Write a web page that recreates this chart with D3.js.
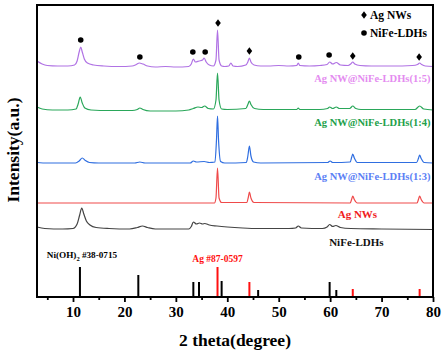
<!DOCTYPE html>
<html>
<head>
<meta charset="utf-8">
<script src="https://cdn.jsdelivr.net/npm/d3@7"></script>
<style>
  html, body { margin: 0; padding: 0; background: #fff; }
  svg { display: block; }
  text { font-family: "Times New Roman", "Liberation Serif", serif; font-weight: bold; }
</style>
</head>
<body>
<svg id="chart" width="444" height="354"></svg>
<script>
// ---------- DATA (2θ in degrees, intensity in a.u., stacked as in the figure) ----------
const seriesNames = ["Ag NW@NiFe-LDHs(1:5)", "Ag NW@NiFe-LDHs(1:4)", "Ag NW@NiFe-LDHs(1:3)", "Ag NWs", "NiFe-LDHs"];

const ratio15 = [
  [3.0,236],[4.0,233],[5.0,231.5],[7,231],[9,231],[10.3,232],[10.8,236],[11.2,245],[11.5,250],[11.8,245],
  [12.2,238],[12.8,234],[14,232],[16,231],[19,230.5],[21.5,231],[22.3,232.5],[22.9,234],[23.6,233],[24.5,231],
  [26,230],[28,230.5],[30,230],[32.5,230.5],[33.0,233],[33.4,238],[33.8,235],[34.5,236],[35.2,237],[35.5,239],
  [35.9,235],[36.5,232],[37.3,231],[37.8,237],[38.1,267],[38.4,237],[38.9,231],[39.5,230.5],[40.3,231],[40.7,234],
  [41.1,231],[42,230.5],[43.6,232],[44.0,235],[44.3,239],[44.6,235],[45.2,232],[46.5,231],[48,231],[50,231.5],
  [52,231],[53.5,231.5],[53.8,234],[54.1,231.5],[56,231],[58,231.5],[59.4,232.5],[59.9,235],[60.5,233],[61.2,234.5],
  [62,232],[63.5,231.5],[64.0,233],[64.4,235],[64.8,233],[65.8,231.5],[68,231],[72,231],[76,231.5],[77.0,232.5],
  [77.4,234],[77.8,232.5],[78.5,231],[80,230.5]
];
const ratio14 = [
  [3.0,190],[4.0,188],[6,187],[9,187],[10.6,188],[11.0,193],[11.4,200],[11.8,194],[12.3,189],[13.5,187],
  [17,186.5],[21.5,186.5],[22.5,187.5],[23.0,189],[23.6,187.5],[25,186],[30,186],[32.5,187],[33.4,188.5],[34.3,190],
  [35.0,189.5],[35.6,191],[36.3,188.5],[37.3,188],[37.8,197],[38.1,224],[38.4,197],[38.9,188],[40,187.5],[43.6,188.5],
  [44.0,192.5],[44.3,196],[44.6,192.5],[45.3,188.5],[47,187.5],[53.5,187.5],[53.8,189],[54.1,187.5],[58,187.5],[59.5,188.5],
  [59.9,190],[60.5,188.5],[61.2,190],[61.8,188.5],[63.8,188.5],[64.4,191],[65.0,188.5],[66,187.5],[76.5,187.5],[77.4,191],
  [78.2,188],[80,187]
];
const ratio13 = [
  [3,134.5],[5,134],[10.5,134],[11.2,136],[11.8,139],[12.4,136.5],[13.2,134.5],[15,134],[22,134],[23,135],
  [24,134],[32.8,134],[33.4,136],[34,135],[35.5,135.5],[36.5,134.5],[37.6,135],[37.9,157],[38.1,181],[38.3,157],
  [38.7,135.5],[39.5,134],[43.7,134.5],[44.0,141],[44.3,151],[44.6,141],[45.1,135],[46.5,134],[59.5,134.5],[60,136],
  [60.5,134.5],[63.9,135],[64.2,140],[64.4,143],[64.7,139],[65.3,134.5],[76.8,134.5],[77.2,139],[77.4,142],[77.7,138.5],
  [78.3,134.5],[80,134]
];
const agNWs = [
  [3,94],[37.5,94],[37.8,99],[38.1,129],[38.4,99],[38.9,94.5],[43.8,94.5],[44.1,100],[44.3,105],[44.6,99],
  [45.2,94.5],[63.9,94],[64.2,98],[64.4,101],[64.7,97.5],[65.3,94],[76.9,94],[77.2,98],[77.4,101],[77.7,97.5],
  [78.3,94],[80,94]
];
const nifeLDH = [
  [3,70],[4.5,68.5],[8,68],[10,68.5],[10.8,73],[11.3,82],[11.7,89],[12.1,83],[12.6,76],[13.3,72],
  [14.5,69.5],[17,68.5],[21,68],[22.5,69.5],[23.5,71],[24.5,69.5],[26,68],[32.5,68],[33.0,70.5],[33.4,75],
  [34.0,73],[34.6,74],[35.2,73],[35.6,73.5],[36.5,72],[38,71],[40,70],[43,69],[46,68.5],[52,68.5],
  [53.3,69],[53.8,71],[54.4,69],[58.5,68.5],[59.4,70],[59.9,72.5],[60.5,70.5],[61.1,71.5],[62,69.5],[64,68.5],
  [70,68],[80,67.5]
];

// Standard reference patterns: [2θ, relative bar height]
const niOH2Ref = [[11.35,30],[22.7,22],[33.4,15],[34.5,15],[38.9,16],[46.0,7],[59.9,15],[61.2,7]];
const agRef    = [[38.1,30],[44.3,15],[64.4,8],[77.4,8]];

// Phase markers above the (1:5) pattern: [2θ, intensity]
const ldhMarks = [[11.5,257],[23.0,240],[33.3,245],[35.7,245],[53.9,240],[59.8,242]];
const agMarks  = [[38.2,274],[44.3,246],[64.4,241],[77.3,240]];

const majorTicks = [10,20,30,40,50,60,70,80];
const minorTicks = [5,15,25,35,45,55,65,75];

// ---------- STYLE ----------
const curveColors = ["#b072e4", "#2aa75a", "#2f6ee0", "#ef4a4a", "#444444"];
const labelColors = ["#e48cf0", "#22a04a", "#5b80f5", "#f01c1c", "#111111"];

const svg = d3.select("#chart");
const x = d3.scaleLinear().domain([3, 80]).range([37, 433]);
const y = d3.scaleLinear().domain([0, 292]).range([297, 5]);

// curves
const line = d3.line().x(d => x(d[0])).y(d => y(d[1])).curve(d3.curveMonotoneX);
const allSeries = [ratio15, ratio14, ratio13, agNWs, nifeLDH];
svg.append("g").selectAll("path").data(allSeries).join("path")
  .attr("d", line)
  .attr("fill", "none")
  .attr("stroke", (d, i) => curveColors[i])
  .attr("stroke-width", 1.2);

// reference bars
svg.append("g").selectAll("line").data(niOH2Ref).join("line")
  .attr("x1", d => x(d[0])).attr("x2", d => x(d[0]))
  .attr("y1", y(0)).attr("y2", d => y(d[1]))
  .attr("stroke", "#000").attr("stroke-width", 2);
svg.append("g").selectAll("line").data(agRef).join("line")
  .attr("x1", d => x(d[0])).attr("x2", d => x(d[0]))
  .attr("y1", y(0)).attr("y2", d => y(d[1]))
  .attr("stroke", "#ff1010").attr("stroke-width", 2);

// markers
const diamond = (cx, cy, w, h) => `M${cx},${cy - h}L${cx + w},${cy}L${cx},${cy + h}L${cx - w},${cy}Z`;
svg.append("g").selectAll("circle").data(ldhMarks).join("circle")
  .attr("cx", d => x(d[0])).attr("cy", d => y(d[1])).attr("r", 2.8).attr("fill", "#000");
svg.append("g").selectAll("path").data(agMarks).join("path")
  .attr("d", d => diamond(x(d[0]), y(d[1]), 2.8, 3.8)).attr("fill", "#000");

// legend
svg.append("path").attr("d", diamond(364, 15, 2.8, 3.8)).attr("fill", "#000");
svg.append("text").attr("x", 370).attr("y", 19).attr("font-size", 11.5).attr("fill", "#000").text("Ag NWs");
svg.append("circle").attr("cx", 364).attr("cy", 33).attr("r", 2.8).attr("fill", "#000");
svg.append("text").attr("x", 370).attr("y", 37).attr("font-size", 11.5).attr("fill", "#000").text("NiFe-LDHs");

// series labels
const labelPos = [
  {anchor: "end", x: 79.5, v: 215},
  {anchor: "end", x: 79.5, v: 171},
  {anchor: "end", x: 79.5, v: 117},
  {anchor: "middle", x: 65.3, v: 79},
  {anchor: "middle", x: 65.1, v: 51}
];
svg.append("g").selectAll("text").data(seriesNames).join("text")
  .attr("x", (d, i) => x(labelPos[i].x))
  .attr("y", (d, i) => y(labelPos[i].v))
  .attr("text-anchor", (d, i) => labelPos[i].anchor)
  .attr("font-size", (d, i) => i < 3 ? 10.5 : 11)
  .attr("fill", (d, i) => labelColors[i])
  .text(d => d);

// reference labels
const niText = svg.append("text").attr("x", x(4.9)).attr("y", y(39)).attr("font-size", 9.2).attr("fill", "#000");
niText.append("tspan").text("Ni(OH)");
niText.append("tspan").attr("font-size", 6.5).attr("dy", 2.5).text("2");
niText.append("tspan").attr("dy", -2.5).text(" #38-0715");
svg.append("text").attr("x", x(33.2)).attr("y", y(35)).attr("font-size", 9.5).attr("fill", "#ff1010").text("Ag #87-0597");

// axes
const gx = svg.append("g").attr("transform", `translate(0,${y(0)})`)
  .call(d3.axisBottom(x).tickValues(majorTicks).tickSize(5).tickPadding(4).tickFormat(d3.format("d")));
gx.select(".domain").remove();
gx.selectAll(".tick line").attr("stroke", "#000").attr("stroke-width", 1.8);
gx.selectAll(".tick text").attr("font-size", 15).attr("font-family", "'Times New Roman','Liberation Serif',serif").attr("font-weight", "bold").attr("fill", "#000");
const gm = svg.append("g").attr("transform", `translate(0,${y(0)})`)
  .call(d3.axisBottom(x).tickValues(minorTicks).tickSize(3).tickFormat(""));
gm.select(".domain").remove();
gm.selectAll(".tick line").attr("stroke", "#000").attr("stroke-width", 1.8);

// frame
svg.append("rect").attr("x", 37).attr("y", 5).attr("width", 396).attr("height", 292)
  .attr("fill", "none").attr("stroke", "#000").attr("stroke-width", 2);

// axis titles
svg.append("text").attr("x", 235).attr("y", 346).attr("text-anchor", "middle")
  .attr("font-size", 17.5).attr("fill", "#000").text("2 theta(degree)");
svg.append("text").attr("transform", "translate(19,150) rotate(-90)").attr("text-anchor", "middle")
  .attr("font-size", 17.5).attr("fill", "#000").text("Intensity(a.u.)");
</script>
</body>
</html>
